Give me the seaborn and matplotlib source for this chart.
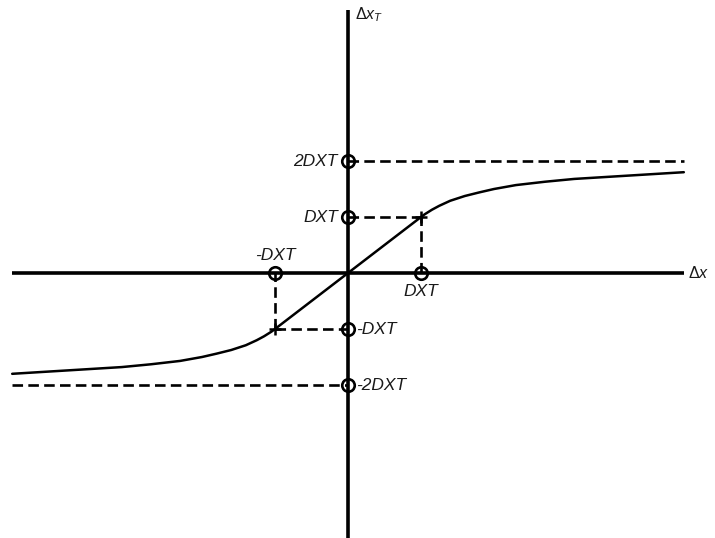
import matplotlib
matplotlib.use("Agg")
import matplotlib.pyplot as plt
import seaborn as sns
import pandas as pd

# Transfer curve, in units of DXT (linear between -DXT and DXT, saturating towards 2DXT)
curve_x = [-4.60, -4.10, -3.60, -3.10, -2.70, -2.30, -2.00, -1.80, -1.60, -1.40, -1.25, -1.15, -1.05, -1.00,
           0.00,
           1.00, 1.05, 1.15, 1.25, 1.40, 1.60, 1.80, 2.00, 2.30, 2.70, 3.10, 3.60, 4.10, 4.60]
curve_y = [-1.80, -1.76, -1.72, -1.68, -1.63, -1.57, -1.50, -1.44, -1.375, -1.29, -1.20, -1.13, -1.048, -1.00,
           0.00,
           1.00, 1.048, 1.13, 1.20, 1.29, 1.375, 1.44, 1.50, 1.57, 1.63, 1.68, 1.72, 1.76, 1.80]

# Marked levels on each axis
x_ticks = [-1, 1]
x_tick_labels = ["-DXT", "DXT"]
y_ticks = [2, 1, -1, -2]
y_tick_labels = ["2DXT", "DXT", "-DXT", "-2DXT"]

sns.set_style("white")
plt.rcParams["font.family"] = ["Liberation Sans", "DejaVu Sans"]
plt.rcParams["mathtext.fontset"] = "custom"
plt.rcParams["mathtext.rm"] = "Liberation Sans"
plt.rcParams["mathtext.it"] = "Liberation Sans:italic"
plt.rcParams["text.color"] = "#1a1a1a"

fig = plt.figure(figsize=(7.15, 5.38), dpi=100)
ax = fig.add_axes([0, 0, 1, 1])
ax.set_xlim(-4.767, 5.027)
ax.set_ylim(-4.732, 4.875)
ax.axis("off")

# Coordinate axes
ax.plot([-4.60, 4.60], [0, 0], color="black", lw=2.6, solid_capstyle="butt", zorder=3)
ax.plot([0, 0], [-4.75, 4.70], color="black", lw=2.6, solid_capstyle="butt", zorder=3)

# Curve
df = pd.DataFrame({"x": curve_x, "y": curve_y})
sns.lineplot(data=df, x="x", y="y", ax=ax, color="black", lw=1.8, sort=False,
             estimator=None, zorder=4)

dash = dict(color="black", lw=1.9, ls=(0, (4, 2.0)), zorder=2)
# Saturation levels
ax.plot([0, 4.60], [2, 2], **dash)
ax.plot([-4.60, 0], [-2, -2], **dash)
# Break points
ax.plot([0, 1], [1, 1], **dash)
ax.plot([1, 1], [0, 1], **dash)
ax.plot([-1, 0], [-1, -1], **dash)
ax.plot([-1, -1], [-1, 0], **dash)

# Corner crosses on the curve
ax.plot([1, -1], [1, -1], ls="none", marker="+", ms=8, mew=1.8, color="black", zorder=5)

# Open circle markers on the axes
circ = dict(ls="none", marker="o", ms=9, mfc="none", mec="black", mew=1.9, zorder=6)
ax.plot(x_ticks, [0] * len(x_ticks), **circ)
ax.plot([0] * len(y_ticks), y_ticks, **circ)

fs = 12.5
# Labels on the x axis
ax.text(x_ticks[0], 0.32, x_tick_labels[0], ha="center", va="center", fontsize=fs, style="italic")
ax.text(x_ticks[1], -0.33, x_tick_labels[1], ha="center", va="center", fontsize=fs, style="italic")
# Labels on the y axis
for yv, lab in zip(y_ticks, y_tick_labels):
    if yv > 0:
        ax.text(-0.14, yv, lab, ha="right", va="center", fontsize=fs, style="italic")
    else:
        ax.text(0.11, yv, lab, ha="left", va="center", fontsize=fs, style="italic")

# Axis names
ax.text(4.66, 0.0, r"$\Delta x$", ha="left", va="center", fontsize=11.5)
ax.text(0.10, 4.62, r"$\Delta x_T$", ha="left", va="center", fontsize=11.5)

fig.savefig("out.png", dpi=100)
